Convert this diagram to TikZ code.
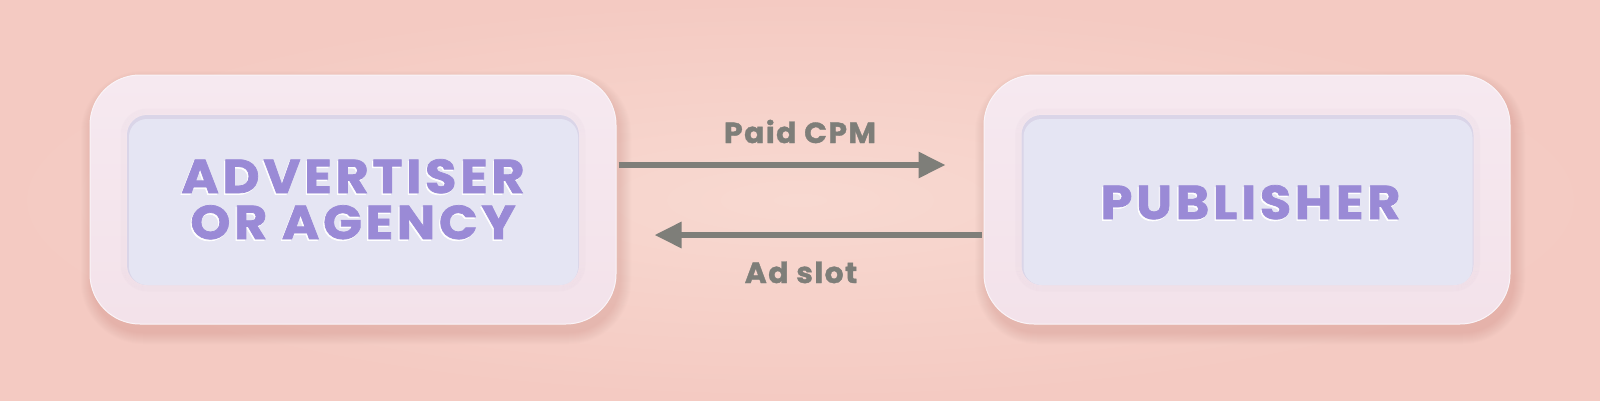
\documentclass[tikz,border=0pt]{standalone}
\usepackage{fontspec}
\setmainfont{Poppins}
\newfontfamily\bigfont[LetterSpace=8,FakeStretch=1.07,FakeBold=1.5]{Poppins}
\newfontfamily\lblfont[LetterSpace=5,FakeStretch=1.03,FakeBold=1.2]{Poppins}
\usetikzlibrary{arrows.meta}
\definecolor{bgedge}{RGB}{244,202,194}
\definecolor{bgmid}{RGB}{248,217,209}
\definecolor{outertop}{RGB}{246,233,240}
\definecolor{outerbot}{RGB}{243,226,234}
\definecolor{innerc}{RGB}{229,229,243}
\definecolor{innerrim}{RGB}{218,213,232}
\definecolor{halo}{RGB}{226,208,222}
\definecolor{txtc}{RGB}{154,138,214}
\definecolor{arrc}{RGB}{126,126,121}
\definecolor{shadc}{RGB}{196,130,124}
\tikzset{
  outerbox/.style={minimum width=526pt, minimum height=249pt, rounded corners=50pt,
    inner sep=0pt, top color=outertop, bottom color=outerbot, draw=white!50!outertop, line width=1pt},
  innerbox/.style={minimum width=452pt, minimum height=170pt, rounded corners=20pt,
    inner sep=0pt, fill=innerrim},
  bigtxt/.style={font=\bigfont\bfseries\fontsize{47.5}{56}\selectfont, text=txtc, inner sep=0pt, anchor=base},
  bigshadow/.style={font=\bigfont\bfseries\fontsize{47.5}{56}\selectfont, text=white, inner sep=0pt, anchor=base},
  lbl/.style={font=\lblfont\bfseries\fontsize{29}{34}\selectfont, text=arrc, inner sep=0pt, anchor=base},
  conn/.style={draw=arrc, line width=6pt, -{Triangle[length=27pt,width=25pt]}}
}
\begin{document}
\begin{tikzpicture}[x=1pt,y=-1pt]
\useasboundingbox (0,0) rectangle (1600,400);
\fill[inner color=bgmid, outer color=bgedge] (0,0) rectangle (1600,400);
% soft drop shadows
\foreach \i in {1,...,12}{
  \pgfmathsetmacro{\rr}{50+\i}
  \fill[shadc, opacity=0.022, rounded corners=\rr pt] (90-\i+3, 75-\i+8) rectangle (616+\i+3, 324+\i+8);
  \fill[shadc, opacity=0.022, rounded corners=\rr pt] (984-\i+3, 75-\i+8) rectangle (1510+\i+3, 324+\i+8);
}
% outer boxes
\node[outerbox] (adv) at (353,199.5) {};
\node[outerbox] (pub) at (1247,199.5) {};
% halo round the recess
\foreach \i in {1,...,6}{
  \pgfmathsetmacro{\rr}{20+\i}
  \draw[halo, opacity=0.12, line width=1pt, rounded corners=\rr pt] (127-\i,115-\i) rectangle (579+\i,285+\i);
  \draw[halo, opacity=0.12, line width=1pt, rounded corners=\rr pt] (1021.5-\i,115-\i) rectangle (1473.5+\i,285+\i);
}
% inner boxes
\node[innerbox] (advin) at (353,200) {};
\node[innerbox] (pubin) at (1247.5,200) {};
\fill[innerc, rounded corners=18pt] (129,119) rectangle (578,285);
\fill[innerc, rounded corners=18pt] (1023.5,119) rectangle (1472.5,285);
% texts
\node[bigshadow] at (351.8,194.6) {ADVERTISER};
\node[bigshadow] at (351.8,240.6) {OR AGENCY};
\node[bigshadow] at (1249.3,220.6) {PUBLISHER};
\node[bigtxt] (advt1) at (353,193) {ADVERTISER};
\node[bigtxt] (advt2) at (353,239) {OR AGENCY};
\node[bigtxt] (pubt) at (1250.5,219) {PUBLISHER};
% connectors
\draw[conn] ([xshift=2pt,yshift=34.5pt]adv.east) -- ([xshift=-38pt,yshift=34.5pt]pub.west);
\draw[conn] ([xshift=-2pt,yshift=-35.5pt]pub.west) -- ([xshift=38pt,yshift=-35.5pt]adv.east);
\node[lbl] (paid) at (800,143) {Paid CPM};
\node[lbl] (slot) at (801,283) {Ad slot};
\end{tikzpicture}
\end{document}
